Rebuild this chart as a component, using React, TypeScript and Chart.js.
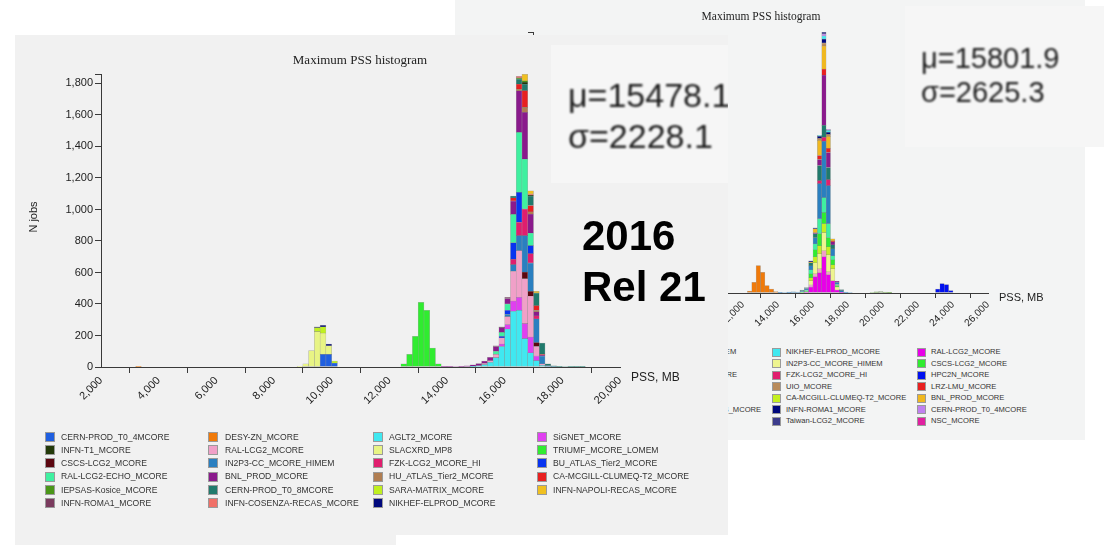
import React, { useEffect, useRef } from "react";
import { Chart, registerables } from "chart.js";
Chart.register(...registerables);

const SANS = "'Liberation Sans', Arial, Helvetica, sans-serif";
const SERIF = "'Liberation Serif', 'Times New Roman', serif";

type Series = { label: string; color: string; start: number; counts: number[] };

// ---------------- Left chart (2016 Rel 21) ----------------
const leftBinWidth = 200;
const leftXTicks = [2000, 4000, 6000, 8000, 10000, 12000, 14000, 16000, 18000, 20000];
const leftYTicks = [0, 200, 400, 600, 800, 1000, 1200, 1400, 1600, 1800];
const leftYMax = 1860;

// stacking order (bottom -> top)
const leftSeries: Series[] = [
  { label: "CERN-PROD_T0_4MCORE", color: "#1f5fe0", start: 9600, counts: [80, 80, 25] },
  { label: "AGLT2_MCORE", color: "#40e8f0", start: 14800, counts: [4, 8, 15, 30, 60, 130, 240, 354, 359, 180, 90, 40, 10] },
  { label: "SiGNET_MCORE", color: "#e040f0", start: 15800, counts: [15, 30, 64, 84, 95, 100, 30] },
  { label: "RAL-LCG2_MCORE", color: "#f0a0c8", start: 15200, counts: [8, 10, 20, 40, 50, 190, 296, 285, 260, 60, 10] },
  { label: "SLACXRD_MP8", color: "#e8f484", start: 8800, counts: [5, 20, 105, 225, 135, 55] },
  { label: "TRIUMF_MCORE_LOMEM", color: "#30ec30", start: 12400, counts: [20, 80, 195, 410, 360, 120, 20] },
  { label: "CSCS-LCG2_MCORE", color: "#5c0710", start: 16600, counts: [42, 30, 25] },
  { label: "IN2P3-CC_MCORE_HIMEM", color: "#2a7fc0", start: 16000, counts: [15, 42, 95, 232, 180, 150, 50, 8, 3] },
  { label: "FZK-LCG2_MCORE_HI", color: "#e01e6e", start: 16200, counts: [33, 85, 169, 60, 20] },
  { label: "BU_ATLAS_Tier2_MCORE", color: "#0834f0", start: 15800, counts: [10, 25, 106, 190, 0, 50] },
  { label: "RAL-LCG2-ECHO_MCORE", color: "#3ff0a0", start: 15600, counts: [20, 25, 40, 180, 380, 317, 80] },
  { label: "BNL_PROD_MCORE", color: "#8a1a8c", start: 13800, counts: [2, 2, 3, 5, 7, 10, 14, 15, 22, 30, 30, 35, 85, 264, 296, 120, 25, 7] },
  { label: "HU_ATLAS_Tier2_MCORE", color: "#b07e52", start: 16400, counts: [11, 32, 15, 10] },
  { label: "CA-MCGILL-CLUMEQ-T2_MCORE", color: "#e82020", start: 16200, counts: [20, 32, 106, 40, 30, 5] },
  { label: "CERN-PROD_T0_8MCORE", color: "#207a6c", start: 16200, counts: [11, 32, 42, 60, 80, 70, 12, 5, 4, 3, 2, 2, 1] },
  { label: "INFN-T1_MCORE", color: "#233a0a", start: 16600, counts: [12, 5] },
  { label: "IEPSAS-Kosice_MCORE", color: "#4a9618", start: 16400, counts: [7, 8] },
  { label: "INFN-ROMA1_MCORE", color: "#7a3b5e", start: 15600, counts: [5, 5, 8] },
  { label: "DESY-ZN_MCORE", color: "#f07a0a", start: 3200, counts: [4] },
  { label: "INFN-COSENZA-RECAS_MCORE", color: "#f07068", start: 16400, counts: [10, 0, 8] },
  { label: "INFN-NAPOLI-RECAS_MCORE", color: "#f0c020", start: 16600, counts: [42, 20, 10] },
  { label: "SARA-MATRIX_MCORE", color: "#c0f020", start: 9400, counts: [25, 40, 0, 12] },
  { label: "NIKHEF-ELPROD_MCORE", color: "#00087c", start: 9400, counts: [5, 10, 10] },
];

const leftLegendColumns = [
  ["CERN-PROD_T0_4MCORE", "INFN-T1_MCORE", "CSCS-LCG2_MCORE", "RAL-LCG2-ECHO_MCORE", "IEPSAS-Kosice_MCORE", "INFN-ROMA1_MCORE"],
  ["DESY-ZN_MCORE", "RAL-LCG2_MCORE", "IN2P3-CC_MCORE_HIMEM", "BNL_PROD_MCORE", "CERN-PROD_T0_8MCORE", "INFN-COSENZA-RECAS_MCORE"],
  ["AGLT2_MCORE", "SLACXRD_MP8", "FZK-LCG2_MCORE_HI", "HU_ATLAS_Tier2_MCORE", "SARA-MATRIX_MCORE", "NIKHEF-ELPROD_MCORE"],
  ["SiGNET_MCORE", "TRIUMF_MCORE_LOMEM", "BU_ATLAS_Tier2_MCORE", "CA-MCGILL-CLUMEQ-T2_MCORE", "INFN-NAPOLI-RECAS_MCORE"],
];

// ---------------- Right chart (background screenshot) ----------------
const rightBinWidth = 250;
const rightXTicks = [0, 2000, 4000, 6000, 8000, 10000, 12000, 14000, 16000, 18000, 20000, 22000, 24000, 26000];
const rightYTicks = [0, 500, 1000, 1500, 2000, 2500];
const rightYMax = 2600;

const rightSeries: Series[] = [
  { label: "RAL-LCG2_MCORE", color: "#e800e8", start: 15500, counts: [10, 60, 160, 200, 360, 180, 120, 30, 9] },
  { label: "TRIUMF_MCORE_LOMEM", color: "#f0a0c8", start: 15750, counts: [20, 30, 40, 60, 30] },
  { label: "IN2P3-CC_MCORE_HIMEM", color: "#eef490", start: 15750, counts: [40, 110, 150, 180, 170, 120, 30] },
  { label: "CA-MCGILL-CLUMEQ-T2_MCORE", color: "#c4f020", start: 15750, counts: [30, 60, 80, 90, 80, 40] },
  { label: "CSCS-LCG2_MCORE", color: "#30ec30", start: 15250, counts: [10, 10, 40, 70, 120, 110, 90, 50, 15] },
  { label: "AGLT2_MCORE", color: "#3ff0a0", start: 15500, counts: [10, 40, 60, 150, 150, 140, 40, 10] },
  { label: "IFIC-LCG2_MCORE", color: "#2a7fc0", start: 14000, counts: [3, 5, 8, 12, 10, 10, 15, 40, 60, 350, 560, 380, 70, 20, 15, 8, 5] },
  { label: "FZK-LCG2_MCORE_HI", color: "#e01e6e", start: 16250, counts: [30, 40, 60] },
  { label: "DESY-HH_MCORE", color: "#207a6c", start: 15250, counts: [10, 10, 30, 40, 150, 120, 120, 40, 5, 10] },
  { label: "RAL-LCG2-ECHO_MCORE", color: "#8a1a8c", start: 16000, counts: [10, 60, 500, 150, 30, 8] },
  { label: "LRZ-LMU_MCORE", color: "#e82020", start: 16250, counts: [40, 60, 40, 10] },
  { label: "BNL_PROD_MCORE", color: "#f0b820", start: 15750, counts: [10, 40, 150, 230, 120, 20] },
  { label: "UIO_MCORE", color: "#b88a5a", start: 16250, counts: [20, 30, 20] },
  { label: "INFN-ROMA1_MCORE", color: "#00087c", start: 15750, counts: [10, 10, 20, 40, 20] },
  { label: "NIKHEF-ELPROD_MCORE", color: "#40e8f0", start: 16250, counts: [10, 30, 20] },
  { label: "CERN-PROD_T0_4MCORE", color: "#c080f0", start: 16500, counts: [20, 10] },
  { label: "Taiwan-LCG2_MCORE", color: "#3c3c8c", start: 16500, counts: [20] },
  { label: "DESY-ZN_MCORE", color: "#f07a0a", start: 12250, counts: [20, 107, 273, 207, 73, 40, 13] },
  { label: "HPC2N_MCORE", color: "#0010f0", start: 23000, counts: [40, 95, 85, 25] },
  { label: "SARA-MATRIX_MCORE", color: "#4a9618", start: 19250, counts: [5, 12, 15, 10, 4] },
  { label: "NSC_MCORE", color: "#e020a0", start: 16750, counts: [] },
  { label: "SiGNET_MCORE", color: "#1f5fe0", start: 0, counts: [] },
  { label: "INFN-T1_MCORE", color: "#233a0a", start: 0, counts: [] },
  { label: "IEPSAS-Kosice_MCORE", color: "#5c0710", start: 0, counts: [] },
  { label: "MWT2_MCORE", color: "#7a3b5e", start: 0, counts: [] },
  { label: "IN2P3-CC_MCORE", color: "#f07068", start: 0, counts: [] },
  { label: "INFN-COSENZA-RECAS_MCORE", color: "#9ec5e8", start: 0, counts: [] },
  { label: "GoeGrid_MCORE", color: "#bcbd22", start: 0, counts: [] },
];

const rightLegendColumns = [
  ["SiGNET_MCORE", "INFN-T1_MCORE", "IEPSAS-Kosice_MCORE", "AGLT2_MCORE", "SARA-MATRIX_MCORE", "MWT2_MCORE", "DESY-ZN_MCORE"],
  ["TRIUMF_MCORE_LOMEM", "IFIC-LCG2_MCORE", "RAL-LCG2-ECHO_MCORE", "DESY-HH_MCORE", "IN2P3-CC_MCORE", "INFN-COSENZA-RECAS_MCORE", "GoeGrid_MCORE"],
  ["NIKHEF-ELPROD_MCORE", "IN2P3-CC_MCORE_HIMEM", "FZK-LCG2_MCORE_HI", "UIO_MCORE", "CA-MCGILL-CLUMEQ-T2_MCORE", "INFN-ROMA1_MCORE", "Taiwan-LCG2_MCORE"],
  ["RAL-LCG2_MCORE", "CSCS-LCG2_MCORE", "HPC2N_MCORE", "LRZ-LMU_MCORE", "BNL_PROD_MCORE", "CERN-PROD_T0_4MCORE", "NSC_MCORE"],
];

const leftStats = ["μ=15478.1", "σ=2228.1"];
const rightStats = ["μ=15801.9", "σ=2625.3"];
const overlayLines = ["2016", "Rel 21"];

type HistProps = {
  series: Series[];
  binWidth: number;
  xMin: number;
  xMax: number;
  xTicks: number[];
  yMax: number;
  yTicks: number[];
  left: number;
  top: number;
  width: number;
  height: number;
  plotLeft: number;
  plotRight: number;
  plotTop: number;
  plotBottom: number;
  fontSize: number;
  tickLength: number;
};

function Histogram(p: HistProps) {
  const ref = useRef<HTMLCanvasElement>(null);
  useEffect(() => {
    const datasets = p.series.map((s) => ({
      label: s.label,
      data: s.counts
        .map((c, i) => ({ x: s.start + p.binWidth * i + p.binWidth / 2, y: c }))
        .filter((pt) => pt.y > 0),
      backgroundColor: s.color,
      borderColor: "rgba(40,40,40,0.35)",
      borderWidth: 0.5,
      borderSkipped: false as const,
      barPercentage: 1,
      categoryPercentage: 1,
    }));
    const axisColor = "#3a3a3a";
    const font = { family: SANS, size: p.fontSize };
    const chart = new Chart(ref.current as HTMLCanvasElement, {
      type: "bar",
      data: { datasets: datasets as any },
      options: {
        animation: false,
        responsive: false,
        maintainAspectRatio: false,
        devicePixelRatio: 1,
        events: [],
        layout: {
          padding: { left: 0, right: p.width - p.plotRight, top: p.plotTop, bottom: 0 },
        },
        plugins: {
          legend: { display: false },
          title: { display: false },
          tooltip: { enabled: false },
        },
        scales: {
          x: {
            type: "linear",
            min: p.xMin,
            max: p.xMax,
            stacked: true,
            offset: false,
            afterBuildTicks: (s: any) => {
              s.ticks = p.xTicks.map((v) => ({ value: v }));
            },
            afterFit: (s: any) => {
              s.height = p.height - p.plotBottom;
            },
            ticks: {
              autoSkip: false,
              maxRotation: 45,
              minRotation: 45,
              padding: 1,
              color: "#222",
              font,
              callback: (v: any) => Number(v).toLocaleString("en-US"),
            },
            grid: {
              display: true,
              drawOnChartArea: false,
              drawTicks: true,
              tickLength: p.tickLength,
              color: axisColor,
              lineWidth: 1,
            },
            border: { display: true, color: axisColor, width: 1 },
          },
          y: {
            type: "linear",
            min: 0,
            max: p.yMax,
            stacked: true,
            afterBuildTicks: (s: any) => {
              s.ticks = [...p.yTicks, p.yMax].map((v) => ({ value: v }));
            },
            afterFit: (s: any) => {
              s.width = p.plotLeft;
            },
            ticks: {
              autoSkip: false,
              padding: 2,
              color: "#222",
              font,
              callback: (v: any) => (p.yTicks.includes(Number(v)) ? Number(v).toLocaleString("en-US") : ""),
            },
            grid: {
              display: true,
              drawOnChartArea: false,
              drawTicks: true,
              tickLength: p.tickLength,
              color: axisColor,
              lineWidth: 1,
            },
            border: { display: true, color: axisColor, width: 1 },
          },
        },
      } as any,
    });
    return () => chart.destroy();
  }, []);
  return (
    <canvas
      ref={ref}
      width={p.width}
      height={p.height}
      style={{ position: "absolute", left: p.left, top: p.top, width: p.width, height: p.height }}
    />
  );
}

type LegendProps = {
  columns: string[][];
  series: Series[];
  swatchX: number[];
  textX: number[];
  rowY0: number;
  rowStep: number;
  swatch: number;
  fontSize: number;
};

function Legend(p: LegendProps) {
  const colorOf = (name: string) => p.series.find((s) => s.label === name)?.color ?? "#ccc";
  const items: React.ReactNode[] = [];
  p.columns.forEach((col, c) => {
    col.forEach((name, r) => {
      const cy = p.rowY0 + p.rowStep * r;
      items.push(
        <div
          key={`s${c}-${r}`}
          style={{
            position: "absolute",
            left: p.swatchX[c],
            top: cy - p.swatch / 2,
            width: p.swatch,
            height: p.swatch,
            boxSizing: "border-box",
            border: "1px solid #9a9a9a",
            background: colorOf(name),
          }}
        />
      );
      items.push(
        <div
          key={`t${c}-${r}`}
          style={{
            position: "absolute",
            left: p.textX[c],
            top: cy - p.fontSize * 0.6,
            height: p.fontSize * 1.2,
            lineHeight: `${p.fontSize * 1.2}px`,
            fontFamily: SANS,
            fontSize: p.fontSize,
            color: "#333",
            whiteSpace: "nowrap",
          }}
        >
          {name}
        </div>
      );
    });
  });
  return <>{items}</>;
}

const abs = (s: React.CSSProperties): React.CSSProperties => ({ position: "absolute", ...s });

export default function App() {
  return (
    <div style={abs({ left: 0, top: 0, width: 1104, height: 545, overflow: "hidden", background: "#fff" })}>
      {/* Right (background) screenshot */}
      <div style={abs({ left: 455, top: 0, width: 630, height: 440, background: "#f3f4f4", zIndex: 1 })} />
      <div style={abs({ left: 0, top: 0, width: 1104, height: 545, zIndex: 1 })}>
        <Histogram
          series={rightSeries}
          binWidth={rightBinWidth}
          xMin={0}
          xMax={26000}
          xTicks={rightXTicks}
          yMax={rightYMax}
          yTicks={rightYTicks}
          left={455}
          top={0}
          width={630}
          height={345}
          plotLeft={78}
          plotRight={533}
          plotTop={32}
          plotBottom={293}
          fontSize={10}
          tickLength={5}
        />
        <div style={abs({ left: 661, top: 10, width: 200, textAlign: "center", fontFamily: SERIF, fontSize: 11.5, color: "#222", whiteSpace: "nowrap" })}>
          Maximum PSS histogram
        </div>
        <div style={abs({ left: 999, top: 291, fontFamily: SANS, fontSize: 11, color: "#222", whiteSpace: "nowrap" })}>PSS, MB</div>
        <Legend
          columns={rightLegendColumns}
          series={rightSeries}
          swatchX={[484, 629, 772, 917]}
          textX={[498, 643, 786, 931]}
          rowY0={352}
          rowStep={11.5}
          swatch={9}
          fontSize={7.6}
        />
      </div>

      {/* Left (foreground) screenshot */}
      <div style={abs({ left: 15, top: 35, width: 713, height: 510, background: "#f1f1f1", zIndex: 2 })}>
        <Histogram
          series={leftSeries}
          binWidth={leftBinWidth}
          xMin={2000}
          xMax={20000}
          xTicks={leftXTicks}
          yMax={leftYMax}
          yTicks={leftYTicks}
          left={0}
          top={0}
          width={713}
          height={390}
          plotLeft={86}
          plotRight={605}
          plotTop={39}
          plotBottom={332}
          fontSize={11}
          tickLength={6}
        />
        <div style={abs({ left: 195, top: 17, width: 300, textAlign: "center", fontFamily: SERIF, fontSize: 13, color: "#222", whiteSpace: "nowrap" })}>
          Maximum PSS histogram
        </div>
        <div
          style={abs({
            left: 18,
            top: 182,
            fontFamily: SANS,
            fontSize: 11,
            color: "#222",
            whiteSpace: "nowrap",
            transform: "translate(-50%, -50%) rotate(-90deg)",
          })}
        >
          N jobs
        </div>
        <div style={abs({ left: 616, top: 335, fontFamily: SANS, fontSize: 12, color: "#222", whiteSpace: "nowrap" })}>PSS, MB</div>
        <div style={abs({ left: -15, top: -35, width: 0, height: 0 })}>
          <Legend
            columns={leftLegendColumns}
            series={leftSeries}
            swatchX={[45, 208, 373, 537]}
            textX={[61, 225, 389, 553]}
            rowY0={437}
            rowStep={13.2}
            swatch={10}
            fontSize={8.6}
          />
        </div>
      </div>
      <div style={abs({ left: 396, top: 535, width: 334, height: 10, background: "#fff", zIndex: 2 })} />

      {/* Overlays */}
      <div style={abs({ left: 551, top: 45, width: 177, height: 138, background: "#f6f6f6", overflow: "hidden", zIndex: 3 })}>
        {leftStats.map((t, i) => (
          <div
            key={t}
            style={abs({
              left: 17,
              top: 33 + i * 41,
              fontFamily: SANS,
              fontSize: 34,
              lineHeight: "34px",
              color: "#1c1c1c",
              whiteSpace: "nowrap",
              filter: "blur(1.2px)",
            })}
          >
            {t}
          </div>
        ))}
      </div>
      <div style={abs({ left: 905, top: 6, width: 199, height: 141, background: "#f6f6f6", overflow: "hidden", zIndex: 3 })}>
        {rightStats.map((t, i) => (
          <div
            key={t}
            style={abs({
              left: 16,
              top: 38 + i * 34,
              fontFamily: SANS,
              fontSize: 29,
              lineHeight: "29px",
              color: "#1c1c1c",
              whiteSpace: "nowrap",
              filter: "blur(1.1px)",
            })}
          >
            {t}
          </div>
        ))}
      </div>
      {overlayLines.map((t, i) => (
        <div
          key={t}
          style={abs({
            left: 582,
            top: 215 + i * 51,
            fontFamily: SANS,
            fontWeight: 700,
            fontSize: 42,
            lineHeight: "42px",
            color: "#000",
            whiteSpace: "nowrap",
            zIndex: 3,
          })}
        >
          {t}
        </div>
      ))}
    </div>
  );
}
